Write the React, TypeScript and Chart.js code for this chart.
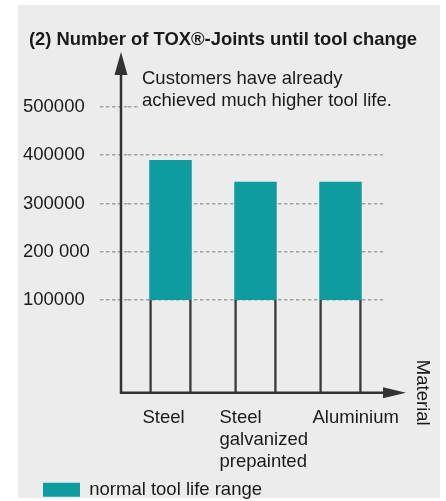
import React, { useEffect, useRef } from 'react';
import { Chart, registerables } from 'chart.js';

Chart.register(...registerables);

// ---- data ----
const categories: string[][] = [['Steel'], ['Steel', 'galvanized', 'prepainted'], ['Aluminium']];
const rangeLow: number[] = [100000, 100000, 100000];
const rangeHigh: number[] = [390000, 345000, 345000];
const yTickValues: number[] = [100000, 200000, 300000, 400000, 500000];
const yTickLabels: string[] = ['100000', '200 000', '300000', '400000', '500000'];
const yAxisFloor = -92500;
const yAxisTop = 500000;
const titleText = '(2) Number of TOX®-Joints until tool change';
const annotationLines: string[] = ['Customers have already', 'achieved much higher tool life.'];
const xAxisTitle = 'Material';
const legendLabel = 'normal tool life range';

// ---- style ----
const FONT = "'Liberation Sans', Arial, Helvetica, sans-serif";
const FS = 18.5;
const BG = '#ececec';
const TEXT = '#1a1a1a';
const TEAL = '#0f9ca1';
const AXIS = '#333333';
const GRID = '#a2a2a2';

const decorPlugin = {
  id: 'decor',
  afterDatasetsDraw(chart: any) {
    const { ctx, chartArea: ca } = chart;
    ctx.save();
    // annotation with background box
    ctx.fillStyle = BG;
    ctx.fillRect(ca.left + 11, ca.top - 42, 275, 47);
    ctx.fillStyle = TEXT;
    ctx.font = `${FS}px ${FONT}`;
    ctx.textBaseline = 'middle';
    ctx.textAlign = 'left';
    annotationLines.forEach((l, i) => ctx.fillText(l, ca.left + 14, ca.top - 28 + i * 22));
    ctx.restore();
  },
  afterDraw(chart: any) {
    const { ctx, chartArea: ca, scales } = chart;
    const axX = ca.left - 7;
    const axY = ca.bottom;
    ctx.save();
    ctx.strokeStyle = AXIS;
    ctx.fillStyle = AXIS;
    ctx.lineWidth = 2.5;
    // y axis
    const yTip = ca.top - 55;
    ctx.beginPath();
    ctx.moveTo(axX, axY + 1);
    ctx.lineTo(axX, yTip + 15);
    ctx.stroke();
    ctx.beginPath();
    ctx.moveTo(axX, yTip);
    ctx.lineTo(axX - 6.5, yTip + 23);
    ctx.lineTo(axX + 6.5, yTip + 23);
    ctx.closePath();
    ctx.fill();
    // x axis
    const xTip = ca.right + 23;
    ctx.beginPath();
    ctx.moveTo(axX - 1, axY);
    ctx.lineTo(xTip - 15, axY);
    ctx.stroke();
    ctx.beginPath();
    ctx.moveTo(xTip, axY);
    ctx.lineTo(xTip - 23, axY - 5.5);
    ctx.lineTo(xTip - 23, axY + 5.5);
    ctx.closePath();
    ctx.fill();
    // x axis title rotated
    ctx.fillStyle = TEXT;
    ctx.font = `${FS}px ${FONT}`;
    ctx.save();
    ctx.translate(ca.right + 39, axY);
    ctx.rotate(Math.PI / 2);
    ctx.textAlign = 'center';
    ctx.textBaseline = 'middle';
    ctx.fillText(xAxisTitle, 0, 0);
    ctx.restore();
    // category labels
    const xs = scales.x;
    ctx.textAlign = 'left';
    ctx.textBaseline = 'middle';
    categories.forEach((lines, i) => {
      const px = xs.getPixelForValue(i);
      const shift = lines.length > 1 ? 36 : 28;
      lines.forEach((l, j) => ctx.fillText(l, px - shift, axY + 25 + j * 22));
    });
    ctx.restore();
  },
};

export default function App() {
  const ref = useRef<HTMLCanvasElement | null>(null);
  useEffect(() => {
    if (!ref.current) return;
    Chart.defaults.font.family = FONT;
    Chart.defaults.color = TEXT;
    const chart = new Chart(ref.current, {
      type: 'bar',
      data: {
        labels: categories,
        datasets: [
          {
            label: legendLabel,
            data: rangeLow.map((lo, i) => [lo, rangeHigh[i]]),
            backgroundColor: TEAL,
            borderWidth: 0,
            grouped: false,
            barPercentage: 0.5,
            categoryPercentage: 1,
            order: 1,
          } as any,
          {
            label: 'stem',
            data: rangeLow.map((lo) => [yAxisFloor, lo]),
            backgroundColor: 'rgba(0,0,0,0)',
            borderColor: '#3a3a3a',
            borderWidth: { left: 2.5, right: 2.5, top: 0, bottom: 0 },
            borderSkipped: false,
            grouped: false,
            barPercentage: 0.5,
            categoryPercentage: 1,
            order: 2,
          } as any,
        ],
      },
      options: {
        responsive: false,
        animation: false,
        devicePixelRatio: 1,
        layout: { padding: { left: 23, right: 23, top: 0, bottom: 0 } },
        plugins: {
          title: {
            display: true,
            text: titleText,
            color: TEXT,
            font: { size: 18.4, weight: 'bold', family: FONT },
            padding: { top: 29, bottom: 55.9 },
          },
          legend: {
            display: true,
            position: 'bottom',
            align: 'start',
            labels: {
              boxWidth: 37,
              boxHeight: 14,
              padding: 20,
              color: TEXT,
              font: { size: FS, family: FONT },
              filter: (item: any) => item.datasetIndex === 0,
            },
          },
          tooltip: { enabled: false },
        },
        scales: {
          x: {
            type: 'category',
            grid: { display: false },
            border: { display: false },
            ticks: { display: false },
            afterFit: (s: any) => { s.height = 67.75; },
          },
          y: {
            type: 'linear',
            position: 'left',
            min: yAxisFloor,
            max: yAxisTop,
            afterBuildTicks: (s: any) => { s.ticks = yTickValues.map((v) => ({ value: v })); },
            afterFit: (s: any) => { s.width = 105; },
            ticks: {
              crossAlign: 'far',
              color: TEXT,
              font: { size: FS, family: FONT },
              callback: (v: any) => {
                const idx = yTickValues.indexOf(Number(v));
                return idx >= 0 ? yTickLabels[idx] : '';
              },
            },
            grid: {
              color: GRID,
              lineWidth: 1.5,
              tickLength: 28,
              tickColor: GRID,
              tickWidth: 1.5,
              tickBorderDash: [3.5, 2.5],
            } as any,
            border: { display: false, dash: [3.5, 2.5] },
          },
          yR: {
            type: 'linear',
            position: 'right',
            display: true,
            grid: { display: false },
            border: { display: false },
            ticks: { display: false },
            afterFit: (s: any) => { s.width = 40; },
          },
        },
      } as any,
      plugins: [decorPlugin],
    });
    return () => chart.destroy();
  }, []);

  return (
    <div style={{ position: 'absolute', left: 0, top: 0, width: 446, height: 501, overflow: 'hidden', background: '#ffffff' }}>
      <div style={{ position: 'absolute', left: 18, top: 5, width: 422, height: 493, background: BG }} />
      <canvas ref={ref} width={446} height={509} style={{ position: 'absolute', left: 0, top: 0, width: 446, height: 509 }} />
    </div>
  );
}
